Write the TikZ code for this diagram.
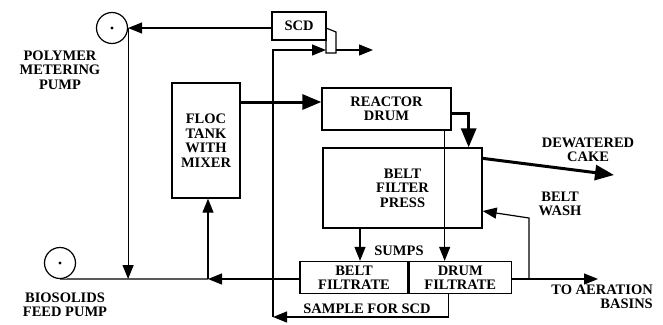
\documentclass[tikz,border=0pt]{standalone}
\usepackage{fontspec}
\setmainfont{Liberation Serif}
\usepackage{tikz}
\usetikzlibrary{arrows.meta,positioning}

\begin{document}
\begin{tikzpicture}[
        x=1pt,y=-1pt,
        every node/.style={font=\bfseries\fontsize{14.5}{14.5}\selectfont,align=center,inner sep=0pt},
        box/.style={draw,line width=1.3pt},
        pump/.style={draw,circle,line width=1.2pt,minimum size=31pt},
        line/.style={line width=1.2pt},
        arrow/.style={line width=1.2pt,-{Triangle[length=14pt,width=11pt]}},
        heavy/.style={line width=3pt,-{Triangle[length=19pt,width=15pt]}}
      ]
      \useasboundingbox (0,0) rectangle (663,324);

      % units and boxes
      \node[pump] (polypump) at (112,28) {};
      \fill (polypump.center) circle (1.6pt);
      \node[pump] (biopump) at (60,263) {};
      \fill (biopump.center) circle (1.6pt);
      \node[box,minimum width=54pt,minimum height=28pt] (scd) at (299,26) {SCD};
      \node[box,minimum width=68pt,minimum height=115pt] (floc) at (206,140.5) {FLOC\\TANK\\WITH\\MIXER};
      \node[box,minimum width=129pt,minimum height=42pt] (reactor) at (386.5,109) {REACTOR\\DRUM};
      \node[box,minimum width=159pt,minimum height=80pt] (press) at (402.5,188) {BELT\\FILTER\\PRESS};
      \node[box,minimum width=108pt,minimum height=32pt] (beltfil) at (354,277.5) {BELT\\FILTRATE};
      \node[box,minimum width=102pt,minimum height=32pt,right=0pt of beltfil] (drumfil) {DRUM\\FILTRATE};
      \draw[line] (326,28) -- (336,32) -- (336,53) -- (326,53) -- cycle;

      % labels
      \node (polylabel) at (60,70) {POLYMER\\METERING\\PUMP};
      \node (biolabel) at (65,305) {BIOSOLIDS\\FEED PUMP};
      \node (cakelabel) at (588,150) {DEWATERED\\CAKE};
      \node (washlabel) at (560,204) {BELT\\WASH};
      \node (sumplabel) at (399,251) {SUMPS};
      \node[align=right,anchor=east] (aerlabel) at (653,297) {TO AERATION\\BASINS};
      \node[anchor=south] (samplabel) at (367,314) {SAMPLE FOR SCD};

      % points on the lines
      \coordinate (splitin) at (326,50);
      \coordinate (splitout) at (336,50);
      \coordinate (splitend) at (373,50);
      \coordinate (join) at (208,279);
      \coordinate (sampturn) at (273,317);
      \coordinate (washjoin) at (529,279);
      \coordinate (washbend) at (529,218);
      \coordinate (aeration) at (598,279);
      \coordinate (cake) at (614,175);

      % polymer and feed
      \draw[arrow] (scd.west |- polypump.east) -- (polypump.east);
      \draw[arrow] (polypump.east) -- (polypump.east |- join);
      \draw[line] (biopump.south) -- (join);
      \draw[arrow] (beltfil.west |- join) -- (join);
      \draw[arrow] (join) -- (join |- floc.south);

      % sludge path
      \draw[heavy] (floc.east |- 0,102) -- ([yshift=7pt]reactor.west);
      \draw[heavy] ([yshift=-4pt]reactor.east) -| ([xshift=-14pt]press.north east);
      \draw[heavy] ([yshift=-11pt]press.north east) -- (cake);

      % filtrate
      \draw[arrow] ([xshift=-7pt]reactor.south east) -- ([xshift=-7pt]reactor.south east |- drumfil.north);
      \draw[arrow] ([xshift=6pt]beltfil.north |- press.south) -- ([xshift=6pt]beltfil.north);
      \draw[arrow] (drumfil.east |- aeration) -- (aeration);
      \draw[arrow] (washjoin) -- (washbend) -- ([yshift=-23pt]press.east);

      % sample for SCD
      \draw[arrow] ([xshift=-12pt]drumfil.south) -- ([xshift=-12pt]drumfil.south |- sampturn) -- (sampturn);
      \draw[arrow] (sampturn) -- (sampturn |- splitin) -- (splitin);
      \draw[arrow] (splitout) -- (splitend);
    \end{tikzpicture}
\end{document}
